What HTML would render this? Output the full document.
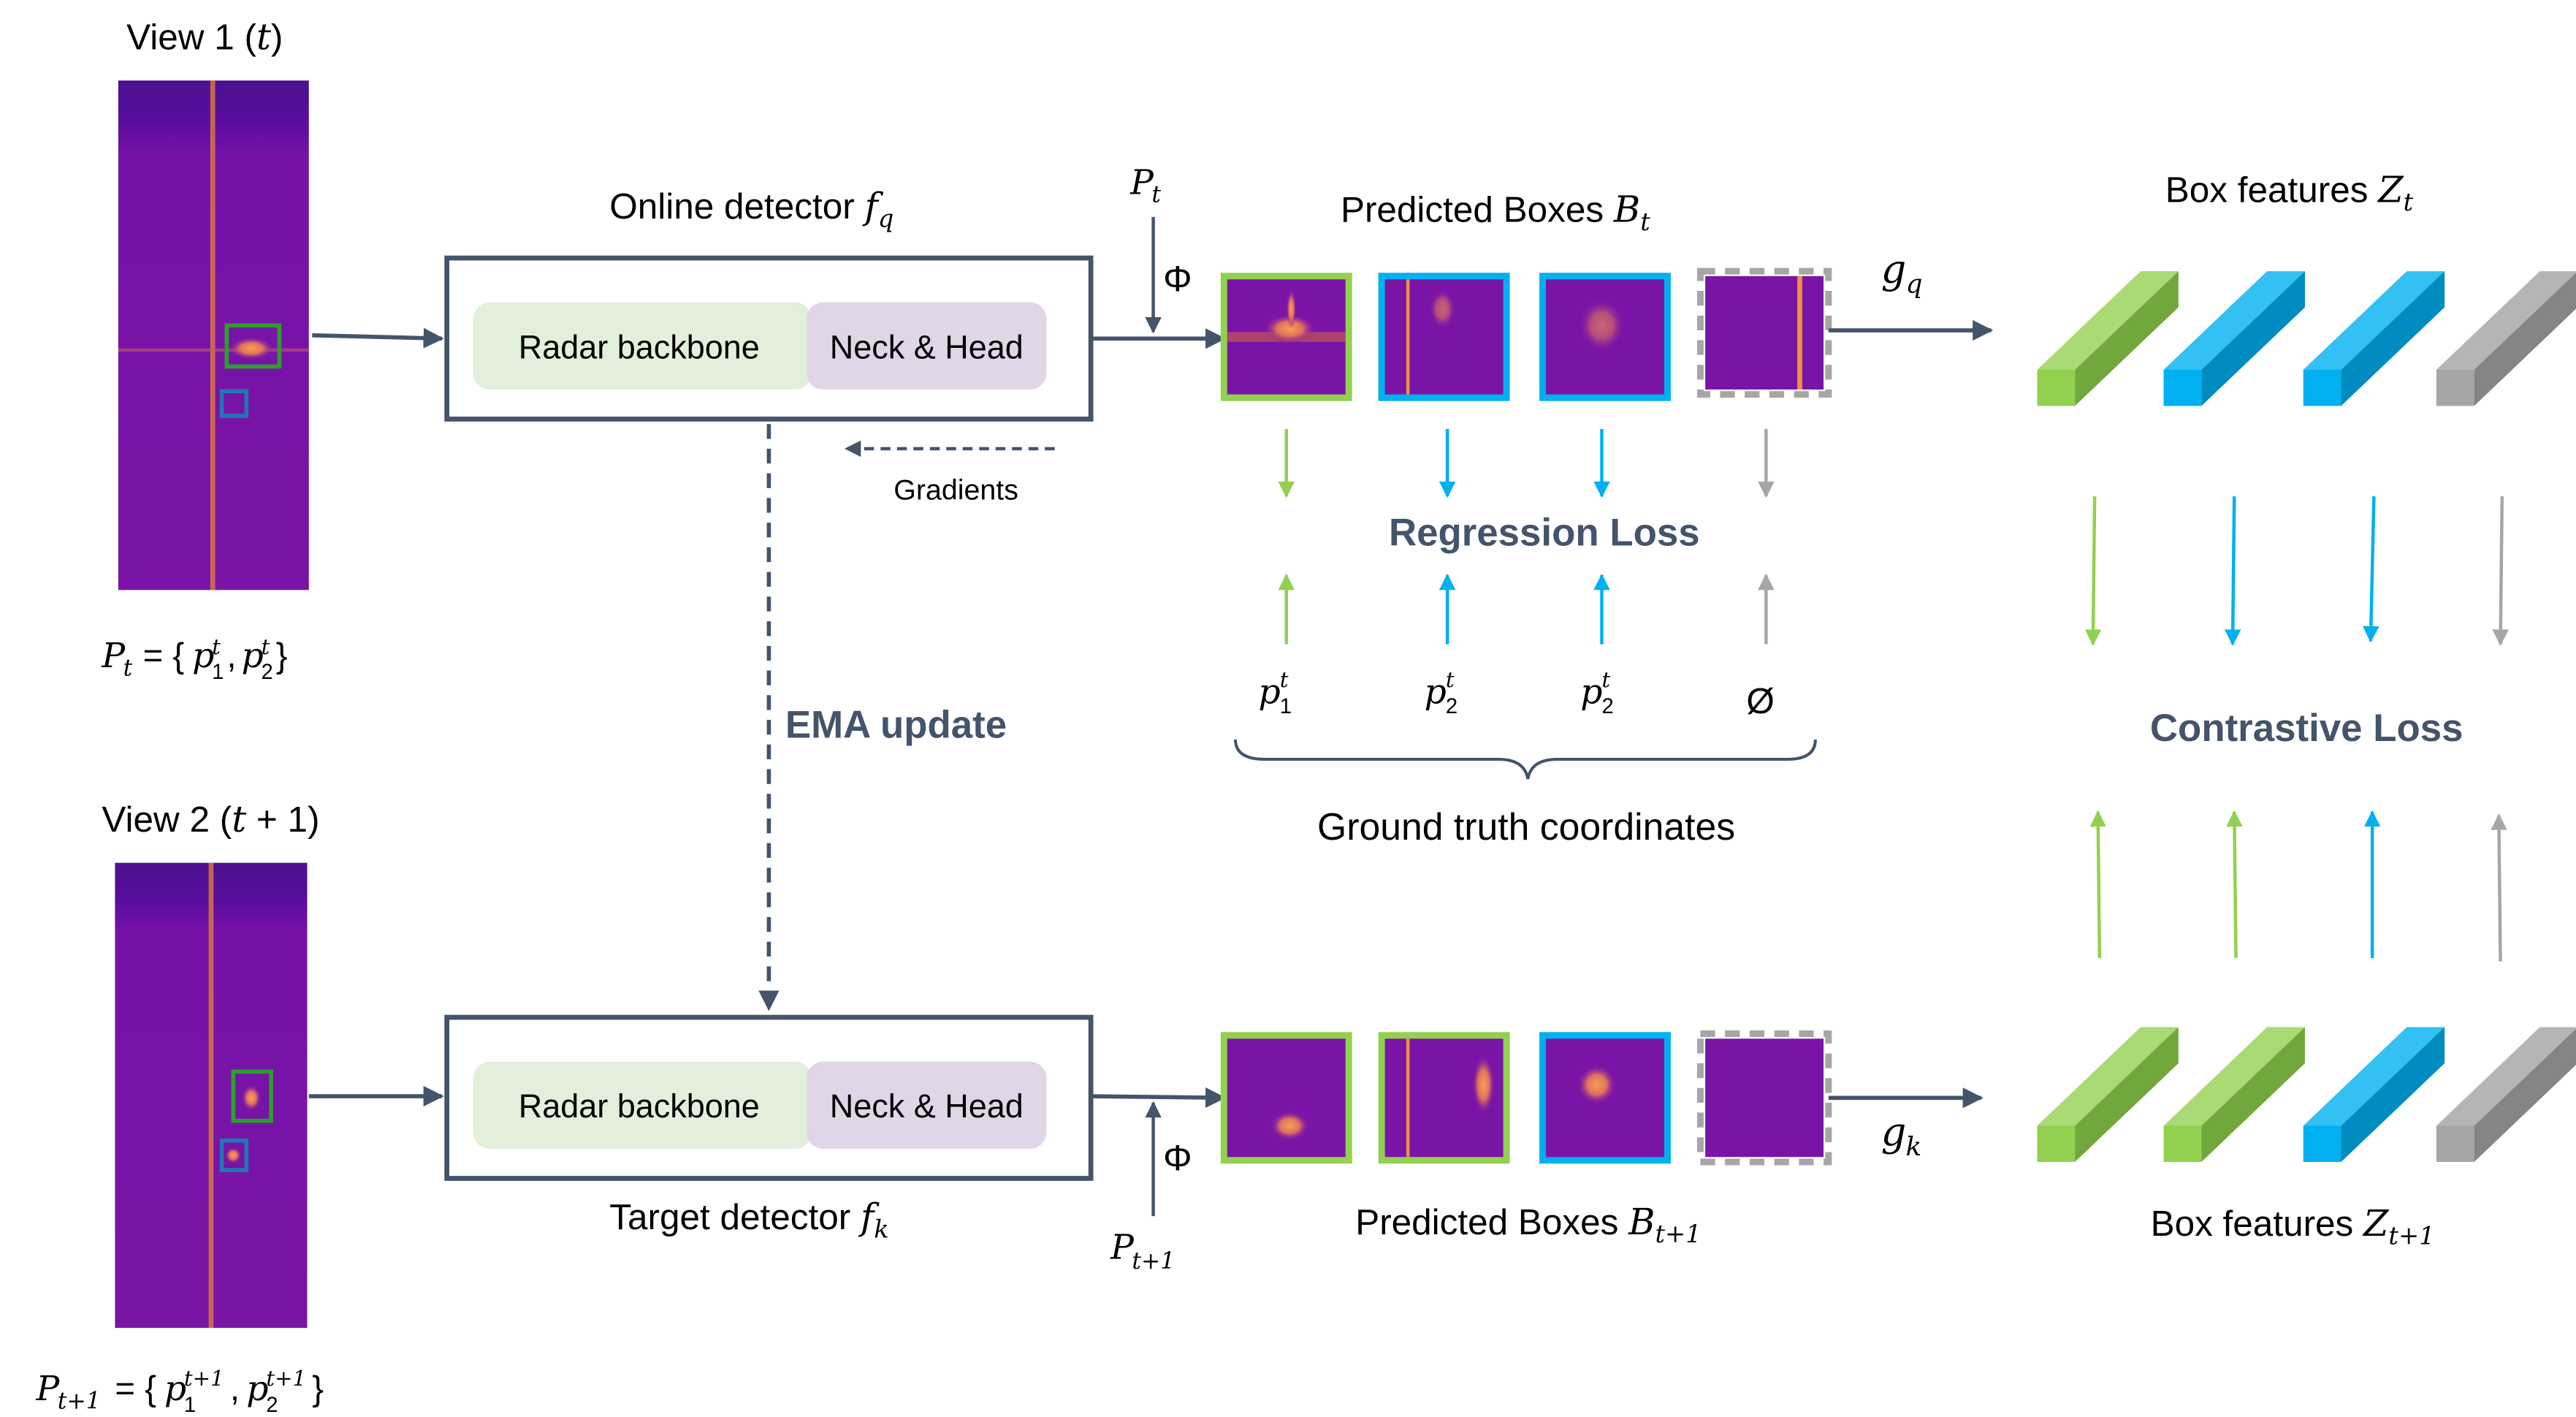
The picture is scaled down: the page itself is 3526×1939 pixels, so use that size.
<!DOCTYPE html>
<html><head><meta charset="utf-8"><style>html,body{margin:0;padding:0;background:#fff}svg{display:block}text{font-family:"Liberation Sans",sans-serif;fill:#000}.m{font-family:"DejaVu Serif","Liberation Serif",serif;font-style:italic}</style></head><body>
<svg width="3526" height="1939" viewBox="0 0 1568 862.2" preserveAspectRatio="none" xmlns="http://www.w3.org/2000/svg">
<defs>
<marker id="a" viewBox="0 0 10 10" refX="9" refY="5" markerWidth="5" markerHeight="5" orient="auto"><path d="M0,0L10,5L0,10z" fill="#44546a"/></marker>
<marker id="ag" viewBox="0 0 10 10" refX="9" refY="5" markerWidth="5" markerHeight="5" orient="auto"><path d="M0,0L10,5L0,10z" fill="#92d050"/></marker>
<marker id="ab" viewBox="0 0 10 10" refX="9" refY="5" markerWidth="5" markerHeight="5" orient="auto"><path d="M0,0L10,5L0,10z" fill="#00b0f0"/></marker>
<marker id="ay" viewBox="0 0 10 10" refX="9" refY="5" markerWidth="5" markerHeight="5" orient="auto"><path d="M0,0L10,5L0,10z" fill="#a6a6a6"/></marker>
<linearGradient id="rad" x1="0" y1="0" x2="0" y2="1"><stop offset="0" stop-color="#4a108f"/><stop offset="0.08" stop-color="#5a0d9e"/><stop offset="0.15" stop-color="#7612a8"/><stop offset="1" stop-color="#7a14a6"/></linearGradient>
<radialGradient id="blob"><stop offset="0" stop-color="#f8a050"/><stop offset="0.5" stop-color="#e07060"/><stop offset="1" stop-color="#7a14a6" stop-opacity="0"/></radialGradient>
</defs>
<!-- view 1 -->
<text x="77" y="30" font-size="22">View 1 (<tspan class="m">t</tspan>)</text>
<rect x="72" y="49" width="116" height="310" fill="url(#rad)"/>
<rect x="128" y="49" width="3" height="310" fill="#e07a40" opacity="0.8"/>
<rect x="72" y="212" width="116" height="2" fill="#c05a70" opacity="0.6"/>
<ellipse cx="153" cy="212" rx="14" ry="7" fill="url(#blob)"/>
<rect x="138" y="198" width="32" height="25" fill="none" stroke="#2ca02c" stroke-width="2.5"/>
<rect x="135" y="238" width="15" height="15" fill="none" stroke="#1f77b4" stroke-width="2.5"/>
<g font-size="21">
<text x="62" y="406" class="m">P</text><text x="75" y="411" font-size="14" class="m">t</text>
<text x="87" y="406">= {</text>
<text x="117" y="406" class="m">p</text><text x="129" y="413" font-size="13">1</text><text x="129" y="398" font-size="13" class="m">t</text>
<text x="138" y="406">,</text>
<text x="147" y="406" class="m">p</text><text x="159" y="413" font-size="13">2</text><text x="159" y="398" font-size="13" class="m">t</text>
<text x="168" y="406">}</text>
</g>
<!-- view 2 -->
<text x="62" y="506" font-size="22">View 2 (<tspan class="m">t</tspan> + 1)</text>
<rect x="70" y="525" width="117" height="283" fill="url(#rad)"/>
<rect x="127" y="525" width="3" height="283" fill="#e07a40" opacity="0.8"/>
<ellipse cx="153" cy="668" rx="6" ry="8" fill="url(#blob)"/>
<ellipse cx="142" cy="703" rx="5" ry="5" fill="url(#blob)"/>
<rect x="142" y="652" width="23" height="30" fill="none" stroke="#2ca02c" stroke-width="2.5"/>
<rect x="135" y="694" width="15" height="18" fill="none" stroke="#1f77b4" stroke-width="2.5"/>
<g font-size="21">
<text x="22" y="852" class="m">P</text><text x="35" y="857" font-size="14" class="m">t+1</text>
<text x="70" y="852">= {</text>
<text x="100" y="852" class="m">p</text><text x="112" y="859" font-size="13">1</text><text x="112" y="843" font-size="13" class="m">t+1</text>
<text x="140" y="852">,</text>
<text x="150" y="852" class="m">p</text><text x="162" y="859" font-size="13">2</text><text x="162" y="843" font-size="13" class="m">t+1</text>
<text x="190" y="852">}</text>
</g>
<!-- detectors -->
<line x1="190" y1="204" x2="269" y2="206" stroke="#44546a" stroke-width="2.5" marker-end="url(#a)"/>
<line x1="188" y1="667" x2="269" y2="667" stroke="#44546a" stroke-width="2.5" marker-end="url(#a)"/>
<text x="371" y="133" font-size="22">Online detector <tspan class="m">f</tspan><tspan class="m" font-size="15" dy="5">q</tspan></text>
<rect x="272" y="157" width="392" height="98" fill="#fff" stroke="#44546a" stroke-width="3"/>
<rect x="288" y="184" width="206" height="53" rx="10" fill="#e2efda"/>
<rect x="491" y="184" width="146" height="53" rx="10" fill="#e1d5e8"/>
<text x="389" y="218" font-size="20" text-anchor="middle">Radar backbone</text>
<text x="564" y="218" font-size="20" text-anchor="middle">Neck &amp; Head</text>
<rect x="272" y="619" width="392" height="98" fill="#fff" stroke="#44546a" stroke-width="3"/>
<rect x="288" y="646" width="206" height="53" rx="10" fill="#e2efda"/>
<rect x="491" y="646" width="146" height="53" rx="10" fill="#e1d5e8"/>
<text x="389" y="680" font-size="20" text-anchor="middle">Radar backbone</text>
<text x="564" y="680" font-size="20" text-anchor="middle">Neck &amp; Head</text>
<text x="371" y="748" font-size="22">Target detector <tspan class="m">f</tspan><tspan class="m" font-size="15" dy="5">k</tspan></text>
<line x1="468" y1="258" x2="468" y2="614" stroke="#44546a" stroke-width="2.5" stroke-dasharray="9,6" marker-end="url(#a)"/>
<text x="478" y="449" font-size="23.5" font-weight="bold" style="fill:#44546a">EMA update</text>
<line x1="642" y1="273" x2="515" y2="273" stroke="#44546a" stroke-width="2" stroke-dasharray="6,4" marker-end="url(#a)"/>
<text x="544" y="304" font-size="17.5">Gradients</text>
<!-- to crops -->
<line x1="664" y1="206" x2="745" y2="206" stroke="#44546a" stroke-width="2.5" marker-end="url(#a)"/>
<line x1="702" y1="132" x2="702" y2="202" stroke="#44546a" stroke-width="2" marker-end="url(#a)"/>
<text x="688" y="118" font-size="21" class="m">P</text><text x="701" y="123" font-size="14" class="m">t</text>
<text x="708" y="177" font-size="22" font-family="Liberation Serif">Φ</text>
<line x1="664" y1="667" x2="745" y2="668" stroke="#44546a" stroke-width="2.5" marker-end="url(#a)"/>
<line x1="702" y1="740" x2="702" y2="671" stroke="#44546a" stroke-width="2" marker-end="url(#a)"/>
<text x="708" y="712" font-size="22" font-family="Liberation Serif">Φ</text>
<text x="676" y="766" font-size="21" class="m">P</text><text x="689" y="772" font-size="14" class="m">t+1</text>
<text x="816" y="135" font-size="22">Predicted Boxes <tspan class="m">B</tspan><tspan class="m" font-size="15" dy="5">t</tspan></text>
<text x="825" y="751" font-size="22">Predicted Boxes <tspan class="m">B</tspan><tspan class="m" font-size="15" dy="5">t+1</tspan></text>
<!-- top crops -->
<g>
<rect x="745" y="168" width="76" height="74" fill="#7a14a6" stroke="#92d050" stroke-width="4"/>
<rect x="747" y="202" width="72" height="6" fill="#d0604a" opacity="0.6"/><ellipse cx="785" cy="200" rx="16" ry="9" fill="url(#blob)"/><ellipse cx="786" cy="188" rx="3" ry="12" fill="url(#blob)"/>
<rect x="841" y="168" width="76" height="74" fill="#7a14a6" stroke="#00b0f0" stroke-width="4"/>
<rect x="856" y="170" width="2" height="70" fill="#f09040"/><ellipse cx="878" cy="188" rx="8" ry="12" fill="url(#blob)" opacity="0.6"/>
<rect x="939" y="168" width="76" height="74" fill="#7a14a6" stroke="#00b0f0" stroke-width="4"/>
<ellipse cx="975" cy="198" rx="14" ry="16" fill="url(#blob)" opacity="0.6"/>
<rect x="1035" y="165" width="78" height="75" fill="#fff" stroke="#a6a6a6" stroke-width="4" stroke-dasharray="9,6"/>
<rect x="1038" y="168" width="72" height="69" fill="#7a14a6"/><rect x="1094" y="168" width="3" height="69" fill="#f09040"/>
</g>
<!-- bottom crops -->
<g>
<rect x="745" y="630" width="76" height="76" fill="#7a14a6" stroke="#92d050" stroke-width="4"/>
<ellipse cx="785" cy="685" rx="12" ry="9" fill="url(#blob)"/>
<rect x="841" y="630" width="76" height="76" fill="#7a14a6" stroke="#92d050" stroke-width="4"/>
<rect x="856" y="632" width="2" height="72" fill="#f09040"/><ellipse cx="903" cy="660" rx="7" ry="18" fill="url(#blob)"/>
<rect x="939" y="630" width="76" height="76" fill="#7a14a6" stroke="#00b0f0" stroke-width="4"/>
<ellipse cx="972" cy="660" rx="12" ry="12" fill="url(#blob)"/>
<rect x="1035" y="629" width="78" height="78" fill="#fff" stroke="#a6a6a6" stroke-width="4" stroke-dasharray="9,6"/>
<rect x="1038" y="632" width="72" height="72" fill="#7a14a6"/>
</g>
<line x1="1113" y1="201" x2="1212" y2="201" stroke="#44546a" stroke-width="2.5" marker-end="url(#a)"/>
<text x="1145" y="172" font-size="24" class="m">g</text><text x="1160" y="178" font-size="16" class="m">q</text>
<line x1="1113" y1="668" x2="1206" y2="668" stroke="#44546a" stroke-width="2.5" marker-end="url(#a)"/>
<text x="1145" y="697" font-size="24" class="m">g</text><text x="1160" y="703" font-size="16" class="m">k</text>
<!-- regression arrows -->
<g stroke-width="2">
<line x1="783" y1="261" x2="783" y2="302" stroke="#92d050" marker-end="url(#ag)"/>
<line x1="881" y1="261" x2="881" y2="302" stroke="#00b0f0" marker-end="url(#ab)"/>
<line x1="975" y1="261" x2="975" y2="302" stroke="#00b0f0" marker-end="url(#ab)"/>
<line x1="1075" y1="261" x2="1075" y2="302" stroke="#a6a6a6" marker-end="url(#ay)"/>
<line x1="783" y1="392" x2="783" y2="350" stroke="#92d050" marker-end="url(#ag)"/>
<line x1="881" y1="392" x2="881" y2="350" stroke="#00b0f0" marker-end="url(#ab)"/>
<line x1="975" y1="392" x2="975" y2="350" stroke="#00b0f0" marker-end="url(#ab)"/>
<line x1="1075" y1="392" x2="1075" y2="350" stroke="#a6a6a6" marker-end="url(#ay)"/>
</g>
<text x="940" y="332" font-size="23.5" font-weight="bold" text-anchor="middle" style="fill:#44546a">Regression Loss</text>
<g font-size="21">
<text x="766" y="428" class="m">p</text><text x="779" y="434" font-size="13">1</text><text x="779" y="418" font-size="13" class="m">t</text>
<text x="867" y="428" class="m">p</text><text x="880" y="434" font-size="13">2</text><text x="880" y="418" font-size="13" class="m">t</text>
<text x="962" y="428" class="m">p</text><text x="975" y="434" font-size="13">2</text><text x="975" y="418" font-size="13" class="m">t</text>
</g>
<text x="1063" y="434" font-size="22">Ø</text>
<path d="M752,450 Q752,462 770,462 L912,462 Q928,462 930,474 Q932,462 948,462 L1088,462 Q1105,462 1105,450" fill="none" stroke="#44546a" stroke-width="1.8"/>
<text x="929" y="511" font-size="23" text-anchor="middle">Ground truth coordinates</text>
<!-- features -->
<text x="1318" y="123" font-size="22">Box features <tspan class="m">Z</tspan><tspan class="m" font-size="15" dy="5">t</tspan></text>
<text x="1309" y="752" font-size="22">Box features <tspan class="m">Z</tspan><tspan class="m" font-size="15" dy="5">t+1</tspan></text>
<g>
<g transform="translate(1240,165)"><polygon points="0,60 63,0 86,0 23,60" fill="#a9da74"/><polygon points="23,60 86,0 86,22 23,82" fill="#70a83e"/><rect x="0" y="60" width="23" height="22" fill="#92d050"/></g>
<g transform="translate(1317,165)"><polygon points="0,60 63,0 86,0 23,60" fill="#33c0f3"/><polygon points="23,60 86,0 86,22 23,82" fill="#008cc0"/><rect x="0" y="60" width="23" height="22" fill="#00b0f0"/></g>
<g transform="translate(1402,165)"><polygon points="0,60 63,0 86,0 23,60" fill="#33c0f3"/><polygon points="23,60 86,0 86,22 23,82" fill="#008cc0"/><rect x="0" y="60" width="23" height="22" fill="#00b0f0"/></g>
<g transform="translate(1483,165)"><polygon points="0,60 63,0 86,0 23,60" fill="#b5b5b5"/><polygon points="23,60 86,0 86,22 23,82" fill="#858585"/><rect x="0" y="60" width="23" height="22" fill="#a6a6a6"/></g>
<g transform="translate(1240,625)"><polygon points="0,60 63,0 86,0 23,60" fill="#a9da74"/><polygon points="23,60 86,0 86,22 23,82" fill="#70a83e"/><rect x="0" y="60" width="23" height="22" fill="#92d050"/></g>
<g transform="translate(1317,625)"><polygon points="0,60 63,0 86,0 23,60" fill="#a9da74"/><polygon points="23,60 86,0 86,22 23,82" fill="#70a83e"/><rect x="0" y="60" width="23" height="22" fill="#92d050"/></g>
<g transform="translate(1402,625)"><polygon points="0,60 63,0 86,0 23,60" fill="#33c0f3"/><polygon points="23,60 86,0 86,22 23,82" fill="#008cc0"/><rect x="0" y="60" width="23" height="22" fill="#00b0f0"/></g>
<g transform="translate(1483,625)"><polygon points="0,60 63,0 86,0 23,60" fill="#b5b5b5"/><polygon points="23,60 86,0 86,22 23,82" fill="#858585"/><rect x="0" y="60" width="23" height="22" fill="#a6a6a6"/></g>
</g>
<g stroke-width="2">
<line x1="1275" y1="302" x2="1274" y2="392" stroke="#92d050" marker-end="url(#ag)"/>
<line x1="1360" y1="302" x2="1359" y2="392" stroke="#00b0f0" marker-end="url(#ab)"/>
<line x1="1445" y1="302" x2="1443" y2="390" stroke="#00b0f0" marker-end="url(#ab)"/>
<line x1="1523" y1="302" x2="1522" y2="392" stroke="#a6a6a6" marker-end="url(#ay)"/>
<line x1="1278" y1="583" x2="1277" y2="494" stroke="#92d050" marker-end="url(#ag)"/>
<line x1="1361" y1="583" x2="1360" y2="494" stroke="#92d050" marker-end="url(#ag)"/>
<line x1="1444" y1="583" x2="1444" y2="494" stroke="#00b0f0" marker-end="url(#ab)"/>
<line x1="1522" y1="585" x2="1521" y2="496" stroke="#a6a6a6" marker-end="url(#ay)"/>
</g>
<text x="1404" y="451" font-size="23.5" font-weight="bold" text-anchor="middle" style="fill:#44546a">Contrastive Loss</text>
</svg>
</body></html>
